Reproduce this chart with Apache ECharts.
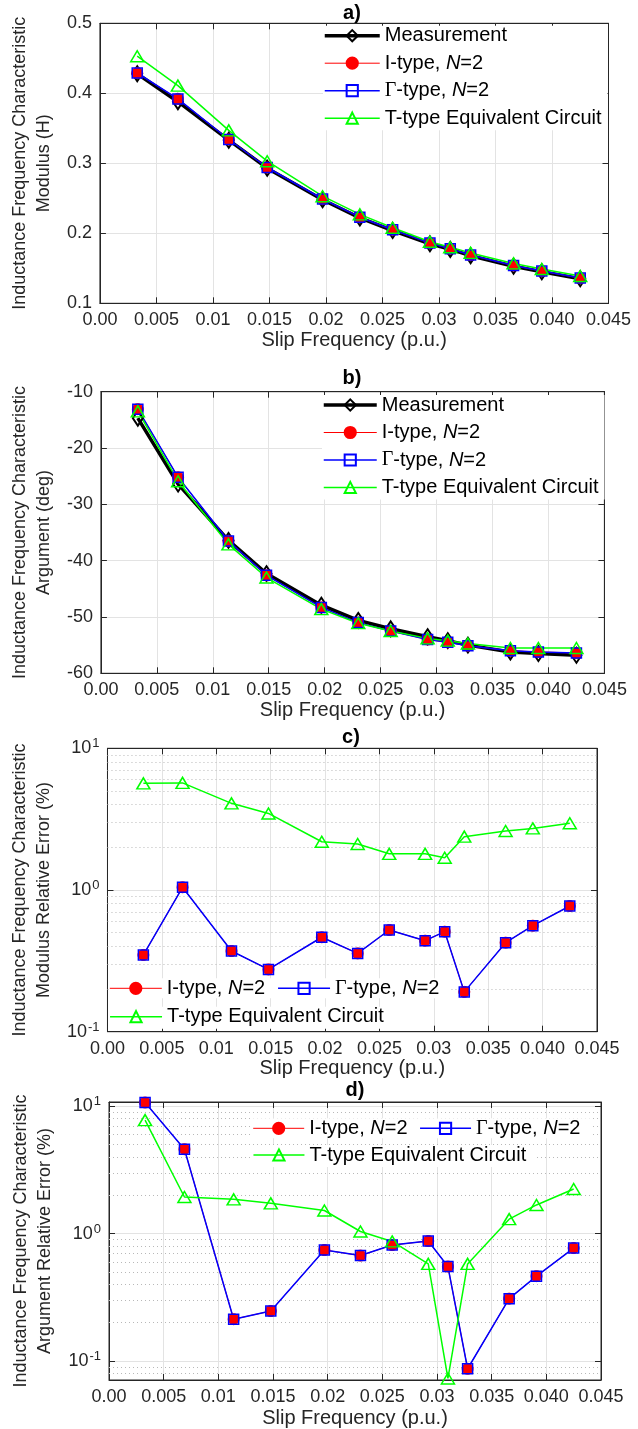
<!DOCTYPE html>
<html>
<head>
<meta charset="utf-8">
<script src="https://cdn.jsdelivr.net/npm/echarts@6/dist/echarts.min.js"></script>
<style>
  html, body { margin: 0; padding: 0; background: #fff; }
  #chart { width: 638px; height: 1429px; }
</style>
</head>
<body>
<div id="chart"></div>
<script>
// slip frequency (p.u.) of the measured points
const slipFreq = [0.0033, 0.0069, 0.0114, 0.0148, 0.0197, 0.0230, 0.0259, 0.0292, 0.0310, 0.0328, 0.0366, 0.0391, 0.0425];

// a) modulus (H)
const measModulus  = [0.428, 0.388, 0.333, 0.293, 0.248, 0.222, 0.204, 0.185, 0.177, 0.168, 0.153, 0.145, 0.135];
const iTypeModulus = [0.429, 0.392, 0.334, 0.294, 0.249, 0.223, 0.205, 0.186, 0.178, 0.169, 0.154, 0.146, 0.136];
const gTypeModulus = [0.429, 0.392, 0.334, 0.294, 0.249, 0.223, 0.205, 0.186, 0.178, 0.169, 0.154, 0.146, 0.136];
const tTypeModulus = [0.453, 0.411, 0.347, 0.303, 0.253, 0.227, 0.208, 0.188, 0.180, 0.172, 0.157, 0.149, 0.139];

// b) argument (deg)
const measArgument  = [-14.7, -26.4, -36.4, -42.3, -47.9, -50.6, -52.1, -53.5, -54.2, -55.0, -56.2, -56.5, -56.8];
const iTypeArgument = [-13.1, -25.2, -36.5, -42.6, -48.3, -51.0, -52.5, -54.0, -54.5, -55.1, -56.0, -56.2, -56.4];
const gTypeArgument = [-13.1, -25.2, -36.5, -42.6, -48.3, -51.0, -52.5, -54.0, -54.5, -55.1, -56.0, -56.2, -56.4];
const tTypeArgument = [-13.5, -25.9, -37.1, -43.0, -48.6, -51.1, -52.5, -53.8, -54.2, -54.7, -55.5, -55.5, -55.5];

// c) modulus relative error (%)
const iTypeModErr = [0.348, 1.045, 0.371, 0.275, 0.464, 0.357, 0.522, 0.439, 0.508, 0.191, 0.425, 0.56, 0.771];
const gTypeModErr = [0.348, 1.045, 0.371, 0.275, 0.464, 0.357, 0.522, 0.439, 0.508, 0.191, 0.425, 0.56, 0.771];
const tTypeModErr = [5.66, 5.7, 4.09, 3.47, 2.19, 2.11, 1.80, 1.80, 1.69, 2.38, 2.61, 2.72, 2.96];

// d) argument relative error (%)
const iTypeArgErr = [10.7, 4.6, 0.213, 0.247, 0.744, 0.673, 0.814, 0.875, 0.552, 0.087, 0.309, 0.464, 0.771];
const gTypeArgErr = [10.7, 4.6, 0.213, 0.247, 0.744, 0.673, 0.814, 0.875, 0.552, 0.087, 0.309, 0.464, 0.771];
const tTypeArgErr = [7.78, 1.94, 1.86, 1.73, 1.52, 1.04, 0.869, 0.579, 0.073, 0.579, 1.30, 1.68, 2.24];

// tick labels
const xTickLabels = ['0.00', '0.005', '0.01', '0.015', '0.02', '0.025', '0.03', '0.035', '0.040', '0.045'];
const modTickLabels = ['0.1', '0.2', '0.3', '0.4', '0.5'];
const argTickLabels = ['-60', '-50', '-40', '-30', '-20', '-10'];
const logTickLabels = {'-1': '10{e|-1}', '0': '10{e|0}', '1': '10{e|1}'};
const minorGridC = [0.2, 0.3, 0.4, 0.5, 0.6, 0.7, 0.8, 0.9, 2, 3, 4, 5, 6, 7, 8, 9];
const minorGridD = [0.08, 0.09, 0.2, 0.3, 0.4, 0.5, 0.6, 0.7, 0.8, 0.9, 2, 3, 4, 5, 6, 7, 8, 9];

const names = ['Measurement', 'I-type, N=2', 'Γ-type, N=2', 'T-type Equivalent Circuit'];

const FONT = '"Liberation Sans", Arial, sans-serif';
const TXT = '#262626';
const GRID = '#e3e3e3';

const grids = [
    {left: 95.6, top: 23.3, width: 512.9, height: 280},
    {left: 98.9, top: 391.7, width: 505.5, height: 281.6},
    {left: 104.8, top: 748.3, width: 492.2, height: 283.4},
    {left: 109, top: 1102, width: 492, height: 280}
];

const logLabelRich = {
    e: {fontSize: 13, fontFamily: FONT, color: TXT, verticalAlign: 'top', padding: [0, 0, 9, 1]}
};

function xAxisFor(i, top) {
    return {
        type: 'value', gridIndex: i, min: 0, max: 0.045, interval: 0.005,
        position: top ? 'top' : 'bottom',
        name: top ? '' : 'Slip Frequency (p.u.)',
        nameLocation: 'middle', nameGap: [27, 27, 27, 28][i],
        nameTextStyle: {fontFamily: FONT, fontSize: 20, color: TXT},
        axisLine: {show: true, onZero: false, lineStyle: {color: TXT, width: 1}},
        axisTick: {show: true, inside: true, length: 6, lineStyle: {color: TXT}},
        axisLabel: {
            show: !top, fontFamily: FONT, fontSize: 18, color: TXT, margin: 8,
            formatter: v => xTickLabels[Math.round(v / 0.005)]
        },
        splitLine: {show: !top, lineStyle: {color: GRID, width: 1}}
    };
}

const yNames = [
    'Inductance Frequency Characteristic\nModulus (H)',
    'Inductance Frequency Characteristic\nArgument (deg)',
    'Inductance Frequency Characteristic\nModulus Relative Error (%)',
    'Inductance Frequency Characteristic\nArgument Relative Error (%)'
];
const yRanges = [
    {type: 'value', min: 0.1, max: 0.5, interval: 0.1},
    {type: 'value', min: -60, max: -10, interval: 10},
    {type: 'log', min: 0.1, max: 10, logBase: 10},
    {type: 'log', min: 0.071, max: 10.8, logBase: 10}
];

function yLabel(i, v) {
    if (i === 0) return modTickLabels[Math.round((v - 0.1) / 0.1)];
    if (i === 1) return argTickLabels[Math.round((v + 60) / 10)];
    const e = Math.log10(v);
    if (Math.abs(e - Math.round(e)) > 1e-6) return '';
    return logTickLabels[String(Math.round(e))];
}

function yAxisFor(i, right) {
    return Object.assign({
        gridIndex: i,
        position: right ? 'right' : 'left',
        name: right ? '' : yNames[i],
        nameLocation: 'middle', nameRotate: 90, nameGap: [33, 39, 42, 39][i],
        nameTextStyle: {fontFamily: FONT, fontSize: 18, color: TXT, lineHeight: 24},
        axisLine: {show: true, onZero: false, lineStyle: {color: TXT, width: 1}},
        axisTick: {show: true, inside: true, length: 6, lineStyle: {color: TXT}},
        axisLabel: {
            show: !right, fontFamily: FONT, fontSize: 18, color: TXT, margin: 8,
            showMinLabel: i !== 3, showMaxLabel: i !== 3,
            formatter: v => yLabel(i, v),
            rich: logLabelRich
        },
        splitLine: {show: !right, lineStyle: {color: GRID, width: 1}}
    }, yRanges[i]);
}

const styles = {
    'Measurement': {
        symbol: 'diamond', symbolSize: [10, 15],
        lineStyle: {color: '#000', width: 3.5},
        itemStyle: {color: 'rgba(0,0,0,0)', borderColor: '#000', borderWidth: 2}
    },
    'I-type, N=2': {
        symbol: 'circle', symbolSize: 11,
        lineStyle: {color: '#ff0000', width: 1},
        itemStyle: {color: '#ff0000', borderColor: '#ff0000', borderWidth: 1}
    },
    'Γ-type, N=2': {
        symbol: 'rect', symbolSize: 10,
        lineStyle: {color: '#0000ff', width: 1.5},
        itemStyle: {color: 'rgba(0,0,0,0)', borderColor: '#0000ff', borderWidth: 1.5}
    },
    'T-type Equivalent Circuit': {
        symbol: 'triangle', symbolSize: [13, 11],
        lineStyle: {color: '#00ff00', width: 1.5},
        itemStyle: {color: 'rgba(0,0,0,0)', borderColor: '#00ff00', borderWidth: 1.5}
    }
};

function line(name, gi, ys, extra) {
    return Object.assign({
        type: 'line', name: name, xAxisIndex: gi, yAxisIndex: gi,
        data: slipFreq.map((x, k) => [x, ys[k]]),
        showAllSymbol: true, animation: false, silent: true, clip: false
    }, styles[name], extra || {});
}

function minorLines(vals) {
    return {
        markLine: {
            silent: true, animation: false, symbol: ['none', 'none'], z: 1,
            label: {show: false},
            lineStyle: {type: [1, 3], color: '#b8b8b8', width: 1},
            data: vals.map(v => ({yAxis: v}))
        }
    };
}

const series = [
    line(names[0], 0, measModulus), line(names[1], 0, iTypeModulus),
    line(names[2], 0, gTypeModulus), line(names[3], 0, tTypeModulus),
    line(names[0], 1, measArgument), line(names[1], 1, iTypeArgument),
    line(names[2], 1, gTypeArgument), line(names[3], 1, tTypeArgument),
    line(names[1], 2, iTypeModErr), line(names[2], 2, gTypeModErr),
    line(names[3], 2, tTypeModErr, minorLines(minorGridC)),
    line(names[1], 3, iTypeArgErr), line(names[2], 3, gTypeArgErr),
    line(names[3], 3, tTypeArgErr, minorLines(minorGridD))
];

const legendRich = {
    i: {fontFamily: FONT, fontSize: 20, fontStyle: 'italic', color: '#000', lineHeight: 20},
    g: {fontFamily: '"Liberation Serif", serif', fontSize: 20, color: '#000', lineHeight: 20}
};

function legendFmt(name) {
    if (name === 'I-type, N=2') return 'I-type, {i|N}=2';
    if (name === 'Γ-type, N=2') return '{g|Γ}-type, {i|N}=2';
    return name;
}

function legend(data, left, top, itemWidth, pad) {
    return {
        data: data, left: left, top: top, orient: 'vertical',
        itemWidth: itemWidth, itemHeight: 14, itemGap: 7.5,
        selectedMode: false, backgroundColor: '#fff',
        padding: pad || [0, 6, 2, 0],
        lineStyle: {width: 'inherit'},
        textStyle: {fontFamily: FONT, fontSize: 20, color: '#000', lineHeight: 20, rich: legendRich},
        formatter: legendFmt
    };
}

const legends = [
    legend(names, 323, 25.7, 55),
    legend(names, 322, 395, 53),
    legend([names[1]], 109.3, 978.3, 52, [0, 16, 0, 0]),
    legend([names[2]], 277.3, 978.3, 52, [0, 10, 0, 0]),
    legend([names[3]], 109.3, 1006.7, 52, [0, 10, 2, 0]),
    legend([names[1]], 252.7, 1118.3, 51, [0, 16, 0, 0]),
    legend([names[2]], 419.3, 1118.3, 51, [0, 10, 0, 0]),
    legend([names[3]], 252.7, 1145, 51, [0, 10, 2, 0])
];

const titles = [['a)', 352, 13], ['b)', 352, 378], ['c)', 351, 737], ['d)', 355, 1090]];

const chart = echarts.init(document.getElementById('chart'), null, {renderer: 'canvas'});
chart.setOption({
    animation: false,
    backgroundColor: '#fff',
    grid: grids.map(g => Object.assign({show: true, borderColor: TXT, borderWidth: 1, backgroundColor: '#fff'}, g)),
    xAxis: [0, 1, 2, 3].map(i => xAxisFor(i, false)).concat([0, 1, 2, 3].map(i => xAxisFor(i, true))),
    yAxis: [0, 1, 2, 3].map(i => yAxisFor(i, false)).concat([0, 1, 2, 3].map(i => yAxisFor(i, true))),
    legend: legends,
    series: series,
    graphic: titles.map(t => ({
        type: 'text', x: t[1], y: t[2], silent: true,
        style: {text: t[0], font: 'bold 20px ' + FONT, fill: '#000', align: 'center', verticalAlign: 'middle'}
    }))
});
</script>
</body>
</html>
